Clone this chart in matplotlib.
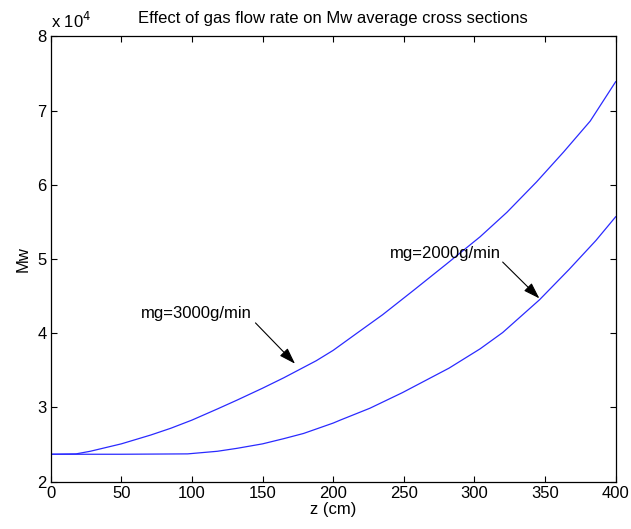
import matplotlib
matplotlib.use('Agg')
import matplotlib.pyplot as plt
from matplotlib.ticker import FuncFormatter

plt.rcParams['font.family'] = ['Liberation Sans', 'DejaVu Sans']

# values (Mw vs z)
z_3000 = [0, 18, 28, 50, 71, 85, 100, 118, 132, 150, 165, 174, 188, 200,
          216, 235, 257, 280, 304, 323, 344, 363, 382, 400]
mw_3000 = [23700, 23750, 24100, 25100, 26300, 27200, 28300, 29800, 31000, 32600,
           34000, 34900, 36300, 37700, 39900, 42500, 45800, 49300, 53000, 56300,
           60400, 64400, 68600, 73900]

z_2000 = [0, 50, 97, 118, 132, 150, 165, 179, 188, 200, 205, 226, 249, 282,
          304, 320, 346, 367, 386, 400]
mw_2000 = [23700, 23700, 23750, 24100, 24500, 25100, 25800, 26500, 27100, 27900,
           28300, 29900, 32000, 35300, 37900, 40100, 44500, 48600, 52500, 55700]

x_ticks = [0, 50, 100, 150, 200, 250, 300, 350, 400]
y_ticks = [20000, 30000, 40000, 50000, 60000, 70000, 80000]

fig = plt.figure(figsize=(6.31, 5.29), dpi=100)
ax = fig.add_axes([0.0803, 0.0894, 0.8954, 0.8417])

ax.plot(z_3000, mw_3000, color='#2a2aff', lw=0.9)
ax.plot(z_2000, mw_2000, color='#2a2aff', lw=0.9)

ax.set_xlim(0, 400)
ax.set_ylim(20000, 80000)
ax.set_xticks(x_ticks)
ax.set_yticks(y_ticks)
ax.yaxis.set_major_formatter(FuncFormatter(lambda v, p: f'{v / 1e4:g}'))
ax.tick_params(direction='in', length=4, width=0.8, top=True, right=True,
               labelsize=12, pad=3)
for s in ax.spines.values():
    s.set_linewidth(0.9)

ax.set_title('Effect of gas flow rate on Mw average cross sections', fontsize=12, pad=10)
ax.set_xlabel('z (cm)', fontsize=12, labelpad=1)
ax.set_ylabel('Mw', fontsize=12, labelpad=5)
ax.text(0.0, 1.012, r'x 10$^{4}$', transform=ax.transAxes, fontsize=12,
        ha='left', va='bottom')

arrow = dict(arrowstyle='-|>,head_length=1.0,head_width=0.33', color='black',
             lw=0.8, shrinkA=0, shrinkB=0)
ax.text(64, 42600, 'mg=3000g/min', fontsize=12, ha='left', va='center')
ax.annotate('', xy=(173, 35900), xytext=(145, 41400), arrowprops=arrow)
ax.text(240, 50800, 'mg=2000g/min', fontsize=12, ha='left', va='center')
ax.annotate('', xy=(346, 44700), xytext=(320, 49600), arrowprops=arrow)

fig.savefig('out.png', dpi=100)
